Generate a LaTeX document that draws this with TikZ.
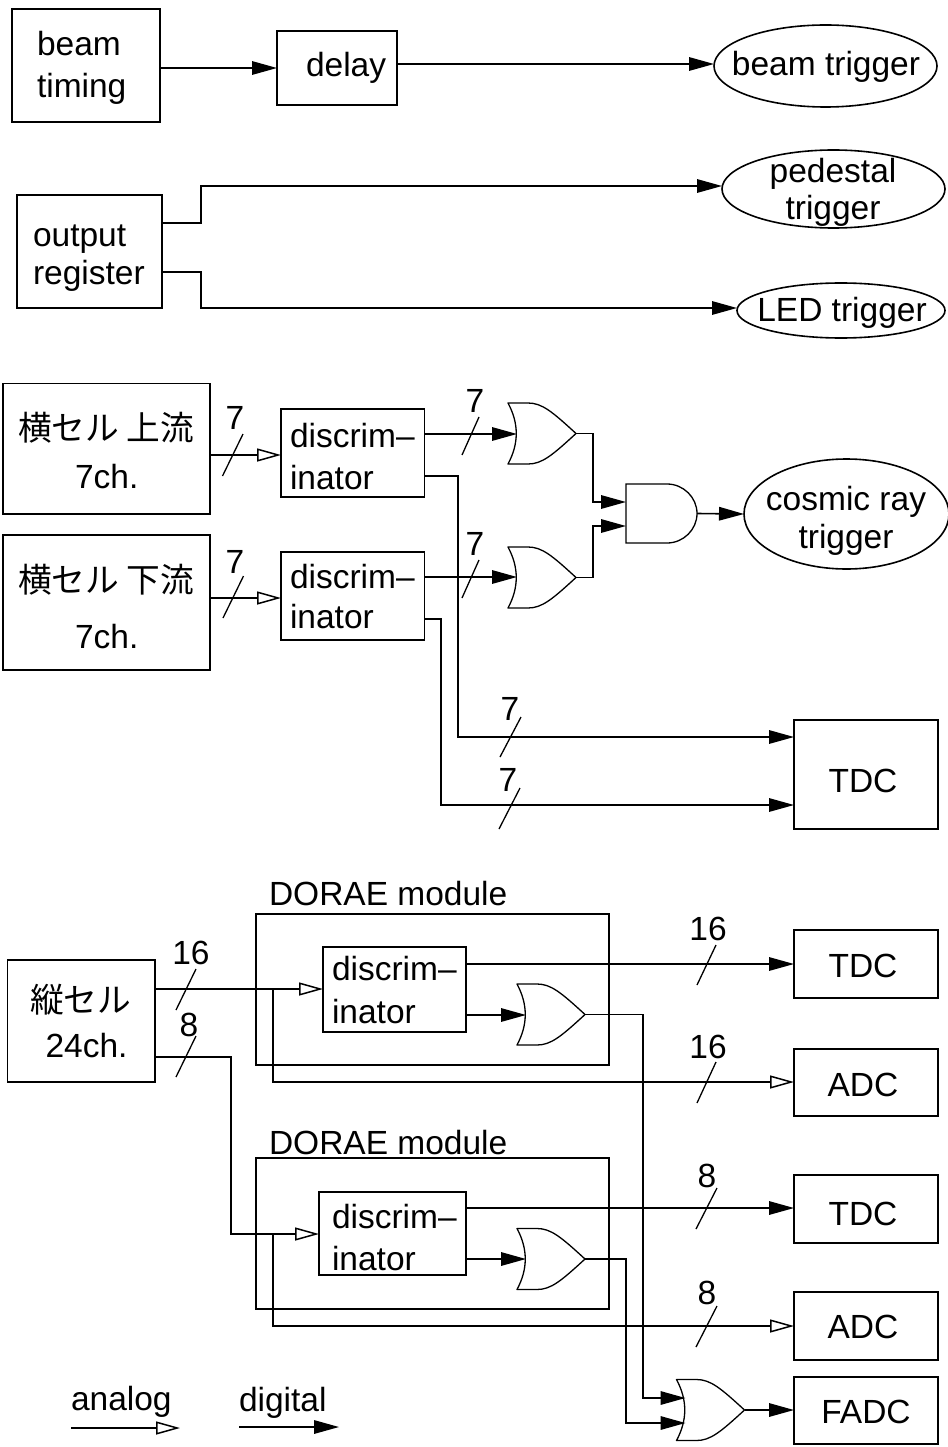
\documentclass[tikz,border=0pt]{standalone}
\usepackage{fontspec}
\setmainfont{Liberation Sans}
\newfontfamily\cjk{Noto Sans CJK JP}
\usetikzlibrary{arrows.meta,shapes.geometric}
\tikzset{
  wire/.style={line width=1.6pt,line join=miter},
  dig/.style={wire,-{Triangle[length=25pt,width=13.5pt]}},
  ana/.style={wire,-{Triangle[open,fill=white,length=24pt,width=13pt,line width=1.5pt]}},
  busmark/.style={line width=1.3pt},
  shp/.style={draw,line width=1.6pt,inner sep=0pt,outer sep=0pt},
  box/.style={shp,rectangle},
  oval/.style={shp,ellipse},
  lab/.style={inner sep=0pt,outer sep=0pt,anchor=base},
  gatebox/.style={inner sep=0pt,outer sep=0pt,rectangle},
}
% text placed at absolute picture position, from inside the node it belongs to
\newcommand\txtl[3]{\pgfmathsetlengthmacro\tdx{#1-\cx}\pgfmathsetlengthmacro\tdy{\cy-#2}\makebox[0pt][l]{\hspace*{\tdx}\raisebox{\tdy}[0pt][0pt]{#3}}}
\newcommand\txtc[3]{\pgfmathsetlengthmacro\tdx{2*(#1-\cx)}\pgfmathsetlengthmacro\tdy{\cy-#2}\makebox[0pt][c]{\hspace*{\tdx}\raisebox{\tdy}[0pt][0pt]{#3}}}
\newcommand\shapenode[7]{%
  \pgfmathsetmacro\cx{(#3+#5)/2}\pgfmathsetmacro\cy{(#4+#6)/2}%
  \pgfmathsetmacro\bw{#5-#3}\pgfmathsetmacro\bh{#6-#4}%
  \node[#1,minimum width=\bw pt,minimum height=\bh pt] (#2) at (\cx,\cy) {#7};}
\newcommand\orgate[3]{%
  \begin{scope}[shift={(#2,#3)}]
    \draw[line width=1.3pt,line join=round] (-34,-30.5) -- (-14,-30.5) .. controls (0,-30.5) and (10,-22) .. (34,0)
      .. controls (10,22) and (0,30.5) .. (-14,30.5) -- (-34,30.5)
      .. controls (-23,10) and (-23,-10) .. cycle;
    \node[gatebox,minimum width=68pt,minimum height=61pt] (#1) at (0,0) {};
    \coordinate (#1-in) at (-25,0);
  \end{scope}}
\newcommand\andgate[3]{%
  \begin{scope}[shift={(#2,#3)}]
    \draw[line width=1.3pt] (-35.5,-29.5) -- (5.5,-29.5) .. controls (22,-29.5) and (35.5,-16) .. (35.5,0)
      .. controls (35.5,16) and (22,29.5) .. (5.5,29.5) -- (-35.5,29.5) -- cycle;
    \node[gatebox,minimum width=71pt,minimum height=59pt] (#1) at (0,0) {};
  \end{scope}}
\newcommand\fs{\fontsize{33.5}{40}\selectfont}
\newcommand\fc{\fontsize{33.7}{40}\selectfont\cjk}
\begin{document}
\begin{tikzpicture}[x=1pt,y=-1pt,every node/.append style={font=\fs}]
\useasboundingbox (0,0) rectangle (947,1447);

% --- top group
\shapenode{box}{bt}{12}{9}{160}{122}{\txtl{37}{56}{beam}\txtl{37}{98}{timing}}
\shapenode{box}{dly}{277}{31}{397}{105}{\txtl{306}{77}{delay}}
\shapenode{oval}{btr}{714}{25}{937}{107}{\txtc{826}{76}{beam trigger}}
\draw[dig] (bt.east |- 0,68) -- (dly.west |- 0,68);
\draw[dig] (dly.east |- 0,64) -- (btr.west |- 0,64);

\shapenode{box}{reg}{17}{195}{162}{308}{\txtl{33}{246}{output}\txtl{33}{284}{register}}
\shapenode{oval}{ped}{722}{150}{945}{228}{\txtc{833}{183}{pedestal}\txtc{833}{220}{trigger}}
\shapenode{oval}{led}{737}{283}{945}{338}{\txtc{842}{321}{LED trigger}}
\draw[dig] (reg.east |- 0,223) -- (201,223) -- (201,186) -- (ped.west |- 0,186);
\draw[dig] (reg.east |- 0,272) -- (201,272) -- (201,308) -- (led.west |- 0,308);

% --- cosmic ray group
\shapenode{box}{yu}{3}{383.5}{210}{514}{\txtl{18}{440}{\fc 横セル 上流}\txtl{75}{488}{7ch.}}
\shapenode{box}{yd}{3}{535}{210}{670}{\txtl{18}{592}{\fc 横セル 下流}\txtl{75}{648}{7ch.}}
\shapenode{box}{du}{281}{409}{424.5}{497}{\txtl{290}{447}{discrim–}\txtl{290}{489}{inator}}
\shapenode{box}{dd}{281}{552}{424.5}{640}{\txtl{290}{588}{discrim–}\txtl{290}{628}{inator}}
\orgate{o1}{542}{433.5}
\orgate{o2}{542}{577.5}
\andgate{a1}{661.5}{513.5}
\shapenode{oval}{cos}{744}{459}{949}{569}{\txtc{846}{510}{cosmic ray}\txtc{846}{548}{trigger}}
\shapenode{box}{tdc1}{794}{720}{938}{829}{\txtc{863}{792}{TDC}}

\draw[ana] (yu.east |- 0,455) -- (du.west |- 0,455);
\draw[ana] (yd.east |- 0,598) -- (dd.west |- 0,598);
\draw[busmark] (222.5,476) -- (243,434);
\draw[busmark] (223,618) -- (243.5,576);
\node[lab] (n1) at (235,429) {7};
\node[lab] (n2) at (235,573) {7};
\draw[dig] (du.east |- 0,434) -- (o1-in |- 0,434);
\draw[dig] (dd.east |- 0,577) -- (o2-in |- 0,577);
\draw[busmark] (462,455) -- (479,417);
\draw[busmark] (462,598) -- (479,560);
\node[lab] (n3) at (475,412) {7};
\node[lab] (n4) at (475,555) {7};
\draw[dig] (o1.east) -- (593,433.5) -- (593,502) -- (a1.west |- 0,502);
\draw[dig] (o2.east) -- (593,577.5) -- (593,526) -- (a1.west |- 0,526);
\draw[dig] (a1.east) -- (cos.west);
\draw[dig] (du.east |- 0,476) -- (458,476) -- (458,737) -- (tdc1.west |- 0,737);
\draw[dig] (dd.east |- 0,619) -- (441,619) -- (441,805) -- (tdc1.west |- 0,805);
\draw[busmark] (500,757) -- (521,717);
\draw[busmark] (499,829) -- (520,788);
\node[lab] (n5) at (510,720) {7};
\node[lab] (n6) at (508,791) {7};

% --- DORAE group
\shapenode{box}{tate}{7.5}{960}{155}{1082}{\txtl{30}{1012}{\fc 縦セル}\txtl{45.5}{1057}{24ch.}}
\shapenode{box}{m1}{256}{914}{609}{1065}{}
\shapenode{box}{m2}{256}{1158}{609}{1309}{}
\node[lab,anchor=base west] (mt1) at (269,905) {DORAE module};
\node[lab,anchor=base west] (mt2) at (269,1154) {DORAE module};
\shapenode{box}{di1}{323}{947}{466}{1032}{\txtl{332}{980}{discrim–}\txtl{332}{1023}{inator}}
\shapenode{box}{di2}{319}{1192}{466}{1275}{\txtl{332}{1228}{discrim–}\txtl{332}{1270}{inator}}
\orgate{o3}{551}{1014.5}
\orgate{o4}{551}{1259}
\orgate{o5}{710.5}{1410}
\shapenode{box}{tdc2}{794}{930}{938}{998}{\txtc{863}{977}{TDC}}
\shapenode{box}{adc1}{794}{1049}{938}{1116}{\txtc{863}{1096}{ADC}}
\shapenode{box}{tdc3}{794}{1175}{938}{1243}{\txtc{863}{1225}{TDC}}
\shapenode{box}{adc2}{794}{1292}{938}{1360}{\txtc{863}{1338}{ADC}}
\shapenode{box}{fadc}{794}{1377}{938}{1444}{\txtc{866}{1423}{FADC}}

\draw[ana] (tate.east |- 0,989) -- (di1.west |- 0,989);
\draw[ana] (tate.east |- 0,1057) -- (231,1057) -- (231,1234) -- (di2.west |- 0,1234);
\draw[ana] (273,989) -- (273,1082) -- (adc1.west |- 0,1082);
\draw[ana] (273,1234) -- (273,1326) -- (adc2.west |- 0,1326);
\draw[busmark] (176,1010) -- (196,969);
\draw[busmark] (176,1077) -- (196,1036);
\node[lab] (n7) at (191,964) {16};
\node[lab] (n8) at (189,1036) {8};
\draw[dig] (di1.east |- 0,964) -- (tdc2.west |- 0,964);
\draw[dig] (di2.east |- 0,1208) -- (tdc3.west |- 0,1208);
\draw[dig] (di1.east |- 0,1015) -- (o3-in |- 0,1015);
\draw[dig] (di2.east |- 0,1259) -- (o4-in |- 0,1259);
\draw[busmark] (697,985) -- (716,945);
\draw[busmark] (697,1103) -- (716,1062);
\draw[busmark] (696,1229) -- (717,1188);
\draw[busmark] (696,1347) -- (717,1306);
\node[lab] (n9) at (708,940) {16};
\node[lab] (n10) at (708,1058) {16};
\node[lab] (n11) at (707,1187) {8};
\node[lab] (n12) at (707,1304) {8};
\draw[dig] (o3.east) -- (643,1014.5) -- (643,1398) -- (o5-in |- 0,1398);
\draw[dig] (o4.east) -- (626,1259) -- (626,1423) -- (o5-in |- 0,1423);
\draw[dig] (o5.east) -- (fadc.west |- o5.east);

% --- legend
\node[lab,anchor=base west] (lga) at (71,1410) {analog};
\node[lab,anchor=base west] (lgd) at (239,1411) {digital};
\coordinate (la0) at (71,1428);
\coordinate (la1) at (180,1428);
\coordinate (ld0) at (239,1427);
\coordinate (ld1) at (339,1427);
\draw[ana] (la0) -- (la1);
\draw[dig] (ld0) -- (ld1);
\end{tikzpicture}
\end{document}
